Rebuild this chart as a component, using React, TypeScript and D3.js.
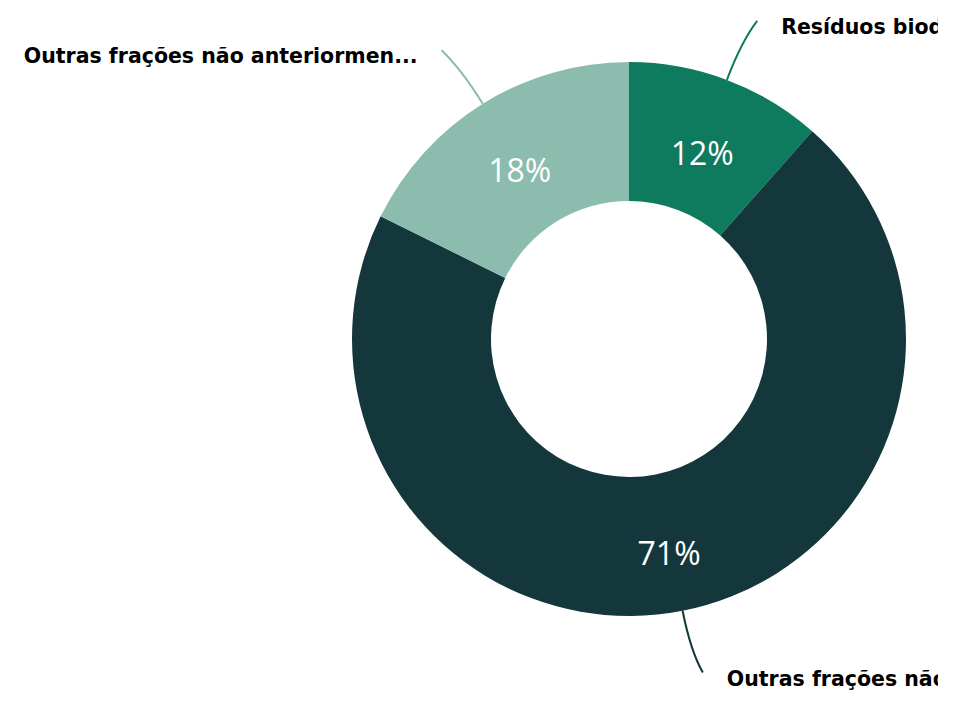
import * as d3 from 'd3';
import { useEffect, useRef } from 'react';

const CATEGORIES = [
  'Resíduos biodegradáveis',
  'Outras frações não anteriormente especificadas',
  'Outras frações não anteriormente especificadas',
];
const SHORT_LABELS = [
  'Resíduos biodegradáveis',
  'Outras frações não anteriormen...',
  'Outras frações não anteriormen...',
];
const VALUES = [11.5, 70.8, 17.7];
const COLORS = ['#0e7a5e', '#14373c', '#8bbcad'];

const WIDTH = 938;
const HEIGHT = 708;

export default function App() {
  const ref = useRef<SVGSVGElement>(null);

  useEffect(() => {
    const svg = d3.select(ref.current);
    svg.selectAll('*').remove();

    const cx = 629;
    const cy = 339;
    const outer = 277;
    const inner = 138;

    const data = CATEGORIES.map((name, i) => ({
      name,
      label: SHORT_LABELS[i],
      value: VALUES[i],
      color: COLORS[i],
    }));
    const total = d3.sum(VALUES);

    const pie = d3.pie<any>().value((d) => d.value).sort(null);
    const arcs = pie(data);
    const arc = d3.arc<any>().innerRadius(inner).outerRadius(outer);
    const labelArc = d3.arc<any>().innerRadius(207).outerRadius(207);

    const g = svg.append('g').attr('transform', `translate(${cx},${cy})`);

    g.selectAll('path.slice')
      .data(arcs)
      .enter()
      .append('path')
      .attr('class', 'slice')
      .attr('d', arc)
      .attr('fill', (d) => d.data.color);

    g.selectAll('text.pct')
      .data(arcs)
      .enter()
      .append('text')
      .attr('class', 'pct')
      .attr('transform', (d) => {
        const [x, y] = labelArc.centroid(d);
        return `translate(${x},${y})`;
      })
      .attr('dy', (d) => (d.data.value > 50 ? '0.72em' : '0.6em'))
      .attr('text-anchor', 'middle')
      .style('font-family', '"Open Sans", sans-serif')
      .style('font-weight', 400)
      .style('font-size', '32px')
      .style('fill', '#ffffff')
      .text((d) => `${Math.round((d.data.value / total) * 100)}%`);

    const polar = (angle: number, r: number): [number, number] => [
      Math.sin(angle) * r,
      -Math.cos(angle) * r,
    ];

    arcs.forEach((d) => {
      const mid = (d.startAngle + d.endAngle) / 2;
      const side = Math.sin(mid) >= 0 ? 1 : -1;
      const p0 = polar(mid, outer);
      const c = polar(mid, 318);
      const p1e = polar(mid, 340);
      const p1: [number, number] = [p1e[0] + side * 8, p1e[1]];
      const path = d3.path();
      path.moveTo(p0[0], p0[1]);
      path.quadraticCurveTo(c[0], c[1], p1[0], p1[1]);

      g.append('path')
        .attr('d', path.toString())
        .attr('fill', 'none')
        .attr('stroke', d.data.color)
        .attr('stroke-width', 2);

      g.append('text')
        .attr('x', p1[0] + side * 24)
        .attr('y', p1[1] + 6)
        .attr('dy', '0.35em')
        .attr('text-anchor', side > 0 ? 'start' : 'end')
        .style('font-family', '"DejaVu Sans", sans-serif')
        .style('font-weight', 700)
        .style('font-size', '20.5px')
        .style('fill', '#000000')
        .text(d.data.label);
    });
  }, []);

  return (
    <svg
      ref={ref}
      width={WIDTH}
      height={HEIGHT}
      style={{ position: 'absolute', left: 0, top: 0, overflow: 'hidden', background: '#ffffff' }}
    />
  );
}
